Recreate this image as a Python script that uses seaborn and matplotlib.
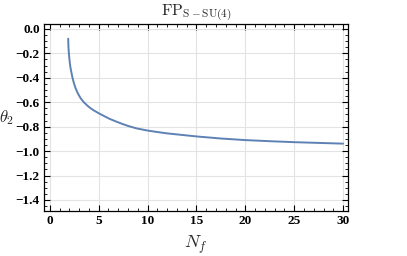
import numpy as np
import pandas as pd
import matplotlib
matplotlib.use("Agg")
import matplotlib.pyplot as plt
import seaborn as sns
from matplotlib.ticker import MultipleLocator, FuncFormatter

nf = [1.88, 1.89, 1.90, 1.92, 1.94, 1.97, 2.0, 2.05, 2.1, 2.18, 2.32, 2.45, 2.63, 2.85, 3.14,
      3.48, 3.8, 4.1, 4.5, 5.0, 5.5, 6.14, 7.0, 7.5, 8.0, 8.87, 10.0, 11.1, 12.0, 15.0, 17.5,
      20.0, 22.5, 25.0, 27.5, 30.0]
theta2 = [-0.08, -0.11, -0.14, -0.165, -0.19, -0.22, -0.245, -0.28, -0.31, -0.345, -0.40, -0.44,
          -0.484, -0.525, -0.566, -0.60, -0.625, -0.645, -0.667, -0.69, -0.711, -0.737, -0.765,
          -0.78, -0.794, -0.814, -0.832, -0.845, -0.855, -0.88, -0.897, -0.91, -0.919, -0.927,
          -0.933, -0.939]

df = pd.DataFrame({"Nf": nf, "theta2": theta2})

sns.set_theme(style="white")
plt.rcParams['font.family'] = ['Liberation Serif', 'DejaVu Serif']
plt.rcParams['mathtext.fontset'] = 'cm'

fig = plt.figure(figsize=(4.07, 2.56), dpi=100)
ax = fig.add_axes([0.108, 0.176, 0.747, 0.730])

sns.lineplot(data=df, x="Nf", y="theta2", ax=ax, color="#5E81B5", linewidth=1.4)

ax.set_xlim(-0.6, 30.5)
ax.set_ylim(-1.49, 0.04)
ax.xaxis.set_major_locator(MultipleLocator(5))
ax.xaxis.set_minor_locator(MultipleLocator(1))
ax.yaxis.set_major_locator(MultipleLocator(0.2))
ax.yaxis.set_minor_locator(MultipleLocator(0.05))
ax.grid(True, which="major", color="#e3e3e3", linewidth=0.8)
ax.tick_params(which="both", direction="in", top=True, right=True, bottom=True, left=True,
               colors="black", labelsize=9.5, pad=3)
ax.tick_params(which="major", length=4, width=0.8)
ax.tick_params(which="minor", length=2, width=0.6)
for s in ax.spines.values():
    s.set_color("black")
    s.set_linewidth(0.9)

ax.xaxis.set_major_formatter(FuncFormatter(lambda v, p: "%d" % round(v)))
ax.yaxis.set_major_formatter(FuncFormatter(
    lambda v, p: ("\u2212%.1f" % abs(v)) if v < -1e-9 else "0.0"))
for t in ax.xaxis.get_major_ticks() + ax.yaxis.get_major_ticks():
    t.label1.set_fontweight("bold")

ax.set_xlabel(r"$N_f$", fontsize=13, labelpad=5)
ax.set_ylabel(r"$\theta_2$", fontsize=12, rotation=0, va="center", ha="center")
ax.yaxis.set_label_coords(-0.122, 0.5)
ax.set_title(r"$\mathrm{FP}_{\mathrm{S-SU(4)}}$", fontsize=11.5, pad=5)

fig.savefig("out.png", dpi=100)
